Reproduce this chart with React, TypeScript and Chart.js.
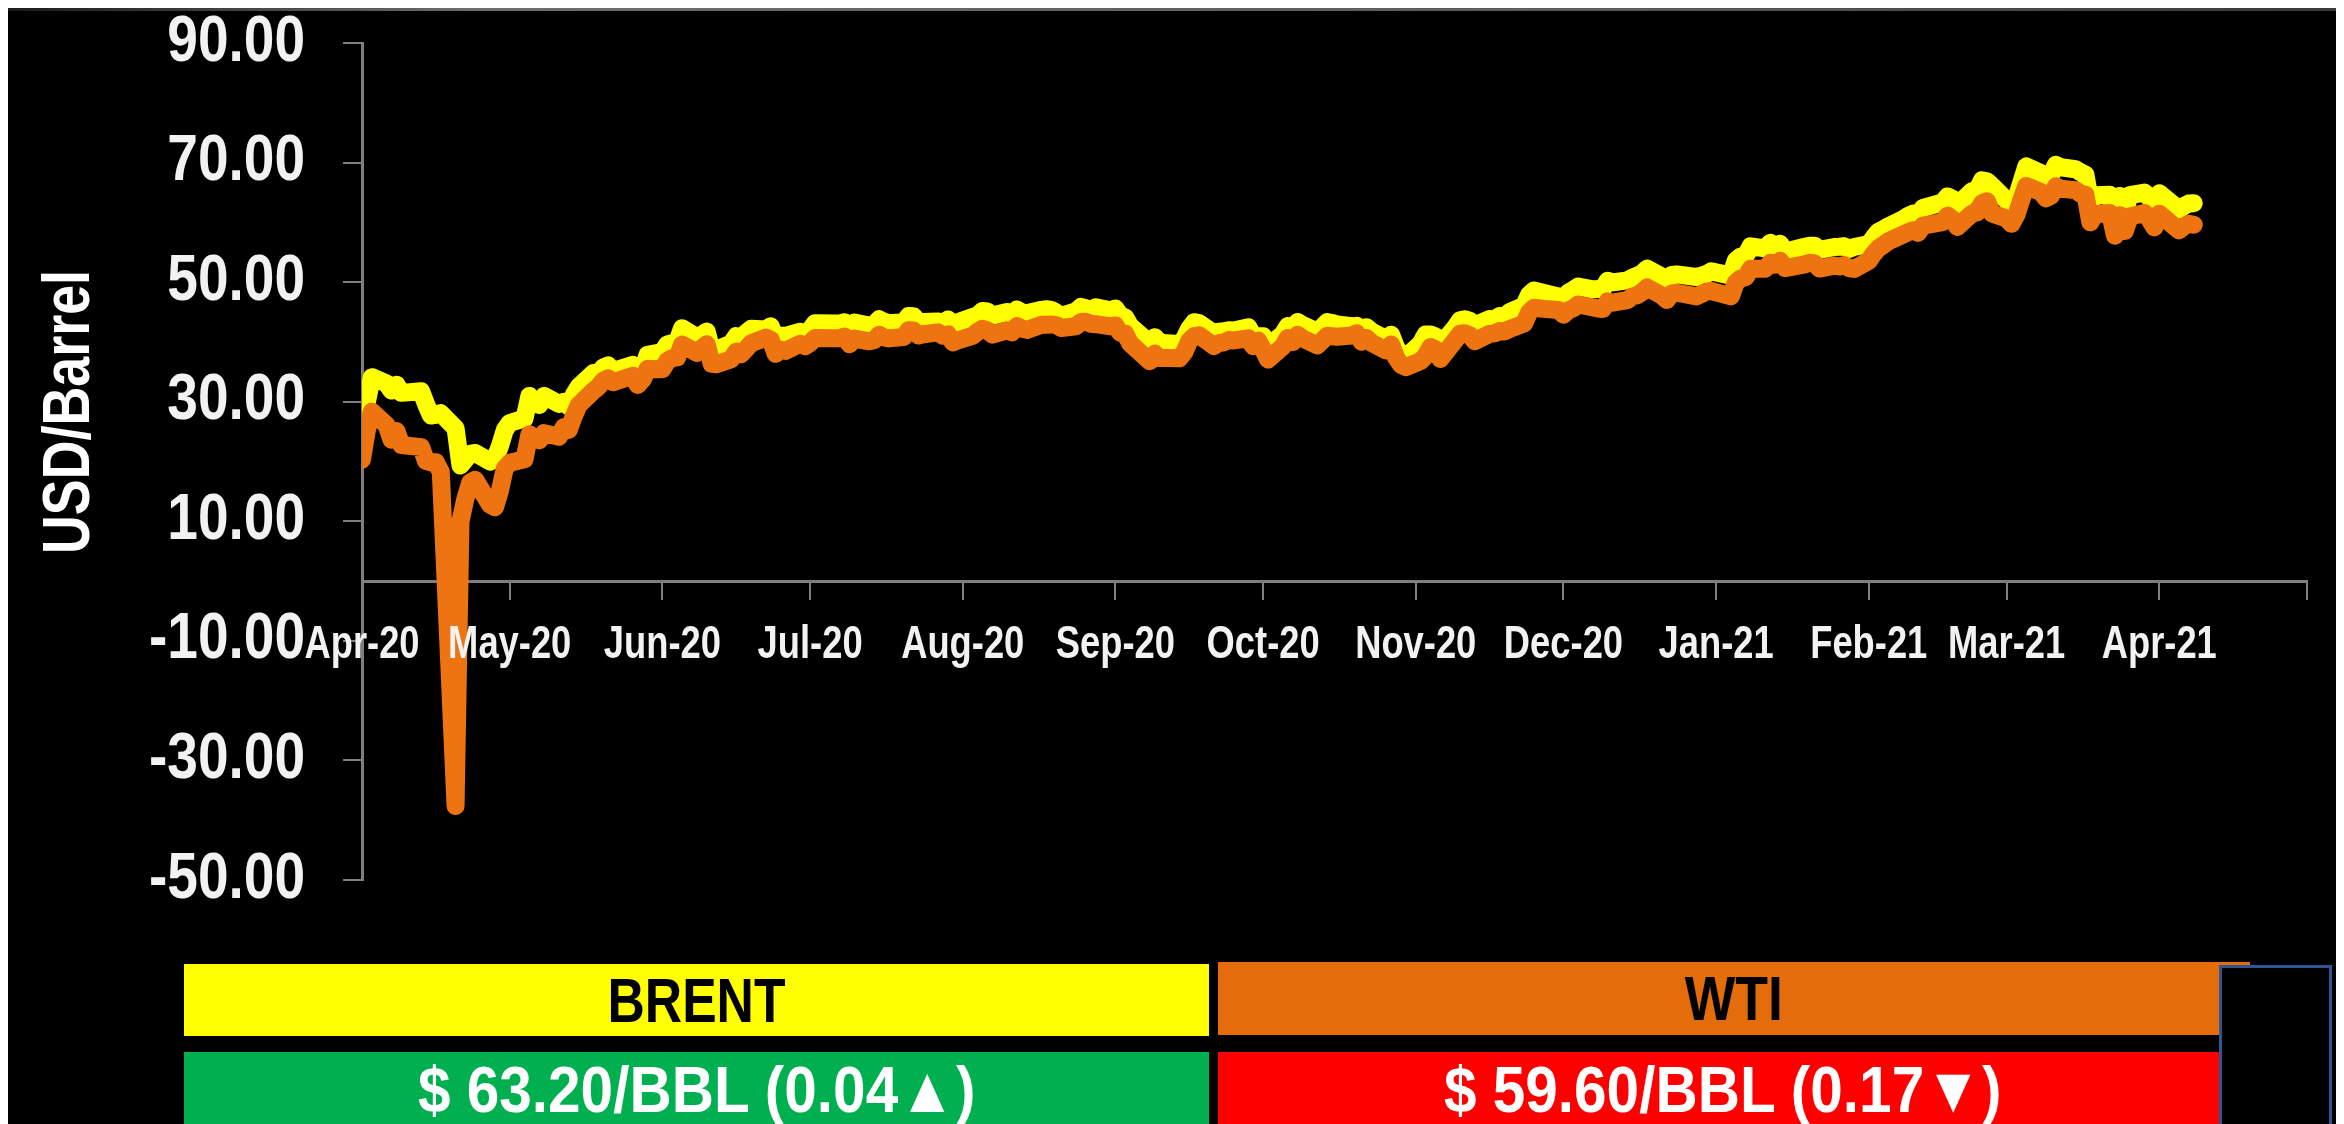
import React, { useEffect, useRef } from 'react';
import { Chart, registerables } from 'chart.js';

Chart.register(...registerables);

// ---- data ---------------------------------------------------------------
const dates: string[] = [
  '2020-04-01','2020-04-02','2020-04-03','2020-04-06','2020-04-07','2020-04-08','2020-04-09','2020-04-13','2020-04-14','2020-04-15','2020-04-16','2020-04-17','2020-04-20','2020-04-21','2020-04-22','2020-04-23','2020-04-24','2020-04-27','2020-04-28','2020-04-29','2020-04-30',
  '2020-05-01','2020-05-04','2020-05-05','2020-05-06','2020-05-07','2020-05-08','2020-05-11','2020-05-12','2020-05-13','2020-05-14','2020-05-15','2020-05-18','2020-05-19','2020-05-20','2020-05-21','2020-05-22','2020-05-26','2020-05-27','2020-05-28','2020-05-29',
  '2020-06-01','2020-06-02','2020-06-03','2020-06-04','2020-06-05','2020-06-08','2020-06-09','2020-06-10','2020-06-11','2020-06-12','2020-06-15','2020-06-16','2020-06-17','2020-06-18','2020-06-19','2020-06-22','2020-06-23','2020-06-24','2020-06-25','2020-06-26','2020-06-29','2020-06-30',
  '2020-07-01','2020-07-02','2020-07-06','2020-07-07','2020-07-08','2020-07-09','2020-07-10','2020-07-13','2020-07-14','2020-07-15','2020-07-16','2020-07-17','2020-07-20','2020-07-21','2020-07-22','2020-07-23','2020-07-24','2020-07-27','2020-07-28','2020-07-29','2020-07-30','2020-07-31',
  '2020-08-03','2020-08-04','2020-08-05','2020-08-06','2020-08-07','2020-08-10','2020-08-11','2020-08-12','2020-08-13','2020-08-14','2020-08-17','2020-08-18','2020-08-19','2020-08-20','2020-08-21','2020-08-24','2020-08-25','2020-08-26','2020-08-27','2020-08-28','2020-08-31',
  '2020-09-01','2020-09-02','2020-09-03','2020-09-04','2020-09-08','2020-09-09','2020-09-10','2020-09-11','2020-09-14','2020-09-15','2020-09-16','2020-09-17','2020-09-18','2020-09-21','2020-09-22','2020-09-23','2020-09-24','2020-09-25','2020-09-28','2020-09-29','2020-09-30',
  '2020-10-01','2020-10-02','2020-10-05','2020-10-06','2020-10-07','2020-10-08','2020-10-09','2020-10-12','2020-10-13','2020-10-14','2020-10-15','2020-10-16','2020-10-19','2020-10-20','2020-10-21','2020-10-22','2020-10-23','2020-10-26','2020-10-27','2020-10-28','2020-10-29','2020-10-30',
  '2020-11-02','2020-11-03','2020-11-04','2020-11-05','2020-11-06','2020-11-09','2020-11-10','2020-11-11','2020-11-12','2020-11-13','2020-11-16','2020-11-17','2020-11-18','2020-11-19','2020-11-20','2020-11-23','2020-11-24','2020-11-25','2020-11-27','2020-11-30',
  '2020-12-01','2020-12-02','2020-12-03','2020-12-04','2020-12-07','2020-12-08','2020-12-09','2020-12-10','2020-12-11','2020-12-14','2020-12-15','2020-12-16','2020-12-17','2020-12-18','2020-12-21','2020-12-22','2020-12-23','2020-12-24','2020-12-28','2020-12-29','2020-12-30','2020-12-31',
  '2021-01-04','2021-01-05','2021-01-06','2021-01-07','2021-01-08','2021-01-11','2021-01-12','2021-01-13','2021-01-14','2021-01-15','2021-01-19','2021-01-20','2021-01-21','2021-01-22','2021-01-25','2021-01-26','2021-01-27','2021-01-28','2021-01-29',
  '2021-02-01','2021-02-02','2021-02-03','2021-02-04','2021-02-05','2021-02-08','2021-02-09','2021-02-10','2021-02-11','2021-02-12','2021-02-16','2021-02-17','2021-02-18','2021-02-19','2021-02-22','2021-02-23','2021-02-24','2021-02-25','2021-02-26',
  '2021-03-01','2021-03-02','2021-03-03','2021-03-04','2021-03-05','2021-03-08','2021-03-09','2021-03-10','2021-03-11','2021-03-12','2021-03-15','2021-03-16','2021-03-17','2021-03-18','2021-03-19','2021-03-22','2021-03-23','2021-03-24','2021-03-25','2021-03-26','2021-03-29','2021-03-30','2021-03-31',
  '2021-04-01','2021-04-05','2021-04-06','2021-04-07','2021-04-08',
];

const brent: number[] = [
  28.5,29.94,34.11,33.05,31.87,32.84,31.48,31.74,29.60,27.69,27.82,28.08,25.57,19.33,20.37,21.33,21.44,19.99,20.46,22.54,25.27,
  26.44,27.20,30.97,29.72,29.46,30.97,29.63,29.98,29.19,31.13,32.50,34.81,34.65,35.75,36.06,35.13,36.17,34.74,35.29,37.84,
  38.32,39.57,39.79,39.99,42.30,40.80,41.18,41.73,38.55,38.73,39.72,40.96,40.71,41.51,42.19,42.08,42.63,40.31,41.05,41.02,41.71,41.15,
  42.03,43.14,43.10,43.08,43.29,42.35,43.24,42.72,42.90,43.79,43.37,43.14,43.28,44.32,44.29,43.31,43.34,43.41,43.22,43.75,42.94,43.30,
  44.15,44.43,45.17,45.09,44.40,44.99,44.50,45.43,44.96,44.80,45.37,45.46,45.37,44.90,44.35,45.13,45.86,45.64,45.09,45.81,45.28,
  45.58,44.43,44.07,42.66,39.78,40.79,39.93,39.83,39.61,40.53,42.22,43.30,43.15,41.44,41.72,41.77,41.94,41.92,42.43,41.03,40.95,
  40.93,39.27,41.29,42.65,41.99,43.34,42.85,41.72,42.45,43.32,43.16,42.93,42.62,42.69,41.73,42.46,41.77,40.46,41.20,39.12,37.65,37.46,
  39.71,41.23,41.23,40.93,39.45,42.40,43.61,43.80,43.53,42.78,43.82,43.75,44.34,44.20,44.96,46.06,47.86,48.61,48.18,47.59,
  47.42,48.25,48.71,49.25,48.79,48.84,48.86,50.25,49.97,50.29,50.76,51.08,51.50,52.26,50.91,50.08,51.20,51.29,50.86,51.09,51.34,51.80,
  51.09,53.60,54.30,54.38,55.99,55.66,56.58,56.06,56.42,55.10,55.90,56.08,56.10,55.41,55.88,55.91,56.00,55.53,55.88,
  56.35,57.46,58.46,58.84,59.34,60.56,61.09,61.47,61.14,62.43,63.35,64.34,63.93,62.91,65.24,65.37,67.04,66.88,66.13,
  63.69,62.70,64.07,66.74,69.36,68.24,67.52,67.90,69.63,69.22,68.88,68.39,68.00,63.28,64.53,64.62,60.79,64.41,61.95,64.57,64.98,64.14,63.54,
  64.86,62.15,62.74,63.16,63.20,
];

const wti: number[] = [
  20.31,25.32,28.34,26.08,23.63,25.09,22.76,22.41,20.11,19.87,19.87,18.27,-37.63,10.01,13.78,16.50,16.94,12.78,12.34,15.06,18.84,
  19.78,20.39,24.56,23.99,23.55,24.74,24.14,25.78,25.29,27.56,29.43,31.82,32.50,33.49,33.92,33.25,34.35,32.81,33.71,35.49,
  35.44,36.81,37.29,37.41,39.55,38.19,38.94,39.60,36.34,36.26,37.12,38.38,37.96,38.84,39.75,40.73,40.37,38.01,38.72,38.49,39.70,39.27,
  39.82,40.65,40.63,40.62,40.90,39.62,40.55,40.10,40.29,41.20,40.75,40.59,40.81,41.96,41.90,41.07,41.29,41.60,41.04,41.27,39.92,40.27,
  41.01,41.70,42.19,41.95,41.22,41.94,41.61,42.67,42.24,42.01,42.89,42.89,42.93,42.82,42.34,42.62,43.35,43.39,43.04,42.97,42.61,
  42.76,41.51,41.37,39.77,36.76,38.05,37.30,37.33,37.26,38.28,40.16,40.97,41.11,39.31,39.80,39.93,40.31,40.25,40.60,39.29,40.22,
  38.72,37.05,39.22,40.67,39.95,41.19,40.60,39.43,40.20,41.04,40.96,40.88,41.06,41.46,40.03,40.64,39.85,38.56,39.57,37.39,36.17,35.79,
  36.81,37.66,39.15,38.79,37.14,40.29,41.36,41.45,41.12,40.13,41.34,41.43,41.82,41.74,42.15,43.06,44.91,45.71,45.53,45.34,
  44.55,45.28,45.64,46.26,45.76,45.60,45.52,46.78,46.57,46.99,47.62,47.82,48.36,49.10,47.74,47.02,48.12,48.23,47.62,48.00,48.40,48.52,
  47.62,49.93,50.63,50.83,52.24,52.25,53.21,52.91,53.57,52.36,52.98,53.24,53.13,52.27,52.77,52.61,52.85,52.34,52.20,
  53.55,54.76,55.69,56.23,56.85,57.97,58.36,58.68,58.24,59.47,60.05,61.14,60.52,59.24,61.49,61.67,63.22,63.53,61.50,
  60.64,59.75,61.28,63.83,66.09,65.05,64.01,64.44,66.02,65.61,65.39,64.80,64.60,60.00,61.42,61.55,57.76,61.18,58.56,60.97,61.56,60.55,59.16,
  61.45,58.65,59.33,59.77,59.60,
];

const tickDates: string[] = [
  '2020-04-01','2020-05-01','2020-06-01','2020-07-01','2020-08-01','2020-09-01','2020-10-01',
  '2020-11-01','2020-12-01','2021-01-01','2021-02-01','2021-03-01','2021-04-01','2021-05-01',
];
const tickLabels: string[] = [
  'Apr-20','May-20','Jun-20','Jul-20','Aug-20','Sep-20','Oct-20',
  'Nov-20','Dec-20','Jan-21','Feb-21','Mar-21','Apr-21','',
];

const seriesNames: string[] = ['BRENT', 'WTI'];
const priceTexts: string[] = ['$ 63.20/BBL (0.04\u25B2)', '$ 59.60/BBL (0.17\u25BC)'];
const Y_TITLE = 'USD/Barrel';
const Y_MIN = -50;
const Y_MAX = 90;
const Y_STEP = 20;

// ---- helpers --------------------------------------------------------------
const ORIGIN = Date.UTC(2020, 3, 1);
function dayOf(d: string): number {
  const [y, m, dd] = d.split('-').map(Number);
  return Math.round((Date.UTC(y, m - 1, dd) - ORIGIN) / 86400000);
}

const SANS = '"Liberation Sans", Arial, sans-serif';
const AXIS_GRAY = '#7F7F7F';
const LABEL_COLOR = '#F2F2F2';

// draws text squeezed horizontally (to imitate the narrow Calibri-like face)
function drawSqueezed(ctx: CanvasRenderingContext2D, text: string, x: number, y: number, k: number) {
  ctx.save();
  ctx.translate(x, y);
  ctx.scale(k, 1);
  ctx.fillText(text, 0, 0);
  ctx.restore();
}

const axisLabelPlugin = {
  id: 'squeezedAxisLabels',
  afterDatasetsDraw(chart: any) {
    const ctx = chart.ctx as CanvasRenderingContext2D;
    const xs = chart.scales.x;
    const ys = chart.scales.y;
    const area = chart.chartArea;
    ctx.save();
    ctx.fillStyle = LABEL_COLOR;
    ctx.textBaseline = 'middle';

    // y tick labels
    ctx.font = `bold 64px ${SANS}`;
    ctx.textAlign = 'right';
    ys.ticks.forEach((t: any) => {
      drawSqueezed(ctx, Number(t.value).toFixed(2), area.left - 57, ys.getPixelForValue(t.value), 0.86);
    });

    // x tick labels (below the zero line)
    ctx.font = `bold 46px ${SANS}`;
    ctx.textAlign = 'center';
    const yLab = ys.getPixelForValue(0) + 64;
    tickDates.forEach((d, i) => {
      if (!tickLabels[i]) return;
      drawSqueezed(ctx, tickLabels[i], xs.getPixelForValue(dayOf(d)), yLab, 0.79);
    });

    // y axis title
    ctx.translate(63, 404);
    ctx.rotate(-Math.PI / 2);
    ctx.font = `bold 66px ${SANS}`;
    ctx.fillStyle = '#FFFFFF';
    ctx.textAlign = 'center';
    drawSqueezed(ctx, Y_TITLE, 0, 0, 0.815);
    ctx.restore();
  },
};

export default function App() {
  const canvasRef = useRef<HTMLCanvasElement | null>(null);

  useEffect(() => {
    document.documentElement.style.overflow = 'hidden';
    document.body.style.overflow = 'hidden';
    const canvas = canvasRef.current;
    if (!canvas) return;
    const tickValues = tickDates.map(dayOf);

    const lineStyle = {
      borderWidth: 18,
      pointRadius: 0,
      tension: 0,
      borderJoinStyle: 'round',
      borderCapStyle: 'round',
      fill: false,
    };

    const chart = new Chart(canvas, {
      type: 'line',
      data: {
        datasets: [
          {
            label: seriesNames[0],
            data: dates.map((d, i) => ({ x: dayOf(d), y: brent[i] })),
            borderColor: '#FFFF00',
            backgroundColor: '#FFFF00',
            order: 1,
            ...lineStyle,
          },
          {
            label: seriesNames[1],
            data: dates.map((d, i) => ({ x: dayOf(d), y: wti[i] })),
            borderColor: '#EE7412',
            backgroundColor: '#EE7412',
            order: 0,
            ...lineStyle,
          },
        ],
      },
      options: {
        animation: false,
        responsive: false,
        events: [],
        layout: { padding: { top: 35, right: 29, bottom: 28, left: 0 } },
        plugins: {
          legend: { display: false },
          tooltip: { enabled: false },
          title: { display: false },
        },
        scales: {
          x: {
            type: 'linear',
            position: { y: 0 } as any,
            min: tickValues[0],
            max: tickValues[tickValues.length - 1],
            afterBuildTicks: (scale: any) => {
              scale.ticks = tickValues.map((v) => ({ value: v }));
            },
            afterFit: (scale: any) => {
              scale.height = 0;
              scale.paddingLeft = 0;
              scale.paddingRight = 0;
            },
            ticks: { display: false, autoSkip: false, maxRotation: 0 },
            grid: {
              drawOnChartArea: false,
              drawTicks: true,
              tickLength: 17,
              color: AXIS_GRAY,
              lineWidth: 2,
            },
            border: { display: true, color: AXIS_GRAY, width: 3 },
          },
          y: {
            type: 'linear',
            position: 'left',
            min: Y_MIN,
            max: Y_MAX,
            afterFit: (scale: any) => {
              scale.width = 354;
              scale.paddingTop = 0;
              scale.paddingBottom = 0;
            },
            ticks: { display: false, stepSize: Y_STEP },
            grid: {
              drawOnChartArea: false,
              drawTicks: true,
              tickLength: 19,
              color: AXIS_GRAY,
              lineWidth: 2,
            },
            border: { display: true, color: AXIS_GRAY, width: 3 },
          },
        },
      } as any,
      plugins: [axisLabelPlugin],
    });

    return () => {
      chart.destroy();
    };
  }, []);

  const panel = (bg: string, color: string, left: number, top: number, width: number, height: number): React.CSSProperties => ({
    position: 'absolute',
    left,
    top,
    width,
    height,
    background: bg,
    color,
    display: 'flex',
    alignItems: 'center',
    justifyContent: 'center',
    fontFamily: SANS,
    fontWeight: 'bold',
    whiteSpace: 'nowrap',
    overflow: 'hidden',
  });

  const squeeze = (k: number, size: number): React.CSSProperties => ({
    display: 'inline-block',
    transform: `scaleX(${k})`,
    fontSize: size,
    lineHeight: 1,
  });

  return (
    <div
      style={{
        position: 'relative',
        width: 2328,
        height: 1116,
        background: '#000000',
        overflow: 'hidden',
      }}
    >
      <div
        style={{
          position: 'absolute',
          left: 0,
          top: 0,
          width: '100%',
          height: 3,
          background: 'linear-gradient(to right, #1c1c1c, #6e6e6e 20%, #5a5a5a 70%, #3a3a3a)',
        }}
      />
      <canvas
        ref={canvasRef}
        width={2328}
        height={900}
        style={{ position: 'absolute', left: 0, top: 0, display: 'block' }}
      />
      <div style={panel('#FFFF00', '#000000', 176, 956, 1025, 72)}>
        <span style={squeeze(0.82, 63)}>{seriesNames[0]}</span>
      </div>
      <div style={panel('#E46C0A', '#000000', 1210, 954, 1032, 73)}>
        <span style={squeeze(0.85, 63)}>{seriesNames[1]}</span>
      </div>
      <div style={panel('#00B050', '#FFFFFF', 176, 1044, 1025, 74)}>
        <span style={squeeze(0.9, 65)}>{priceTexts[0]}</span>
      </div>
      <div style={panel('#FF0000', '#FFFFFF', 1210, 1044, 1010, 74)}>
        <span style={squeeze(0.9, 65)}>{priceTexts[1]}</span>
      </div>
      <div
        style={{
          position: 'absolute',
          left: 2211,
          top: 957,
          width: 113,
          height: 170,
          boxSizing: 'border-box',
          border: '3px solid #2F5597',
          background: '#000000',
        }}
      />
    </div>
  );
}
